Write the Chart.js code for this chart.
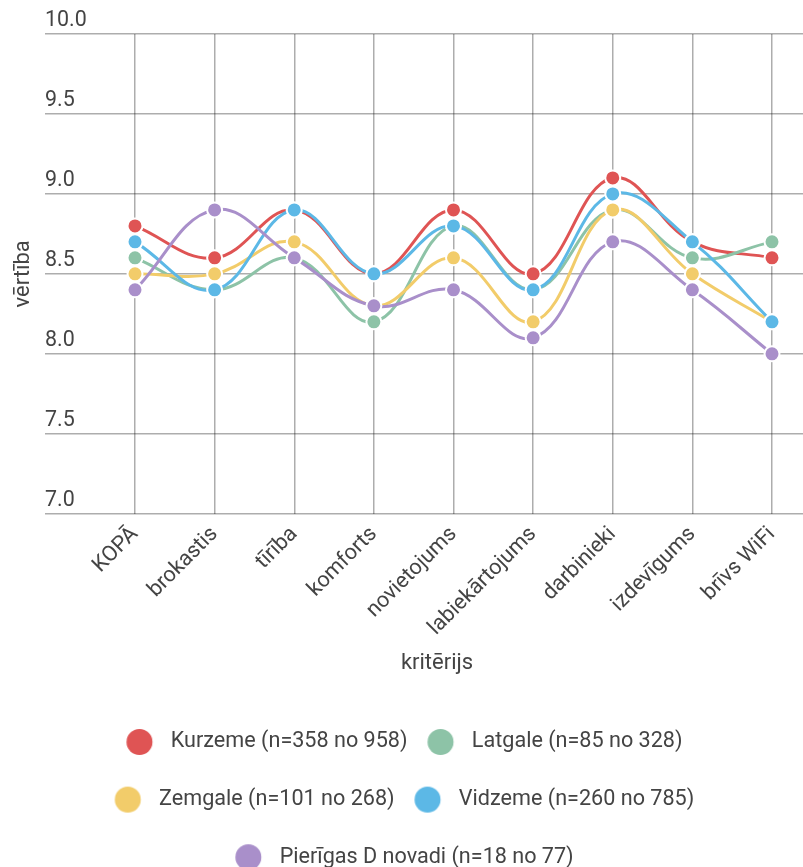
<!DOCTYPE html>
<html>
<head>
<meta charset="utf-8">
<script src="https://cdn.jsdelivr.net/npm/chart.js@4/dist/chart.umd.min.js"></script>
<style>
html,body{margin:0;padding:0;background:#fff;overflow:hidden;}
#wrap{width:803px;height:878px;}
</style>
</head>
<body>
<div id="wrap"><canvas id="c" width="803" height="878"></canvas></div>
<script>
const categories = ['KOPĀ','brokastis','tīrība','komforts','novietojums','labiekārtojums','darbinieki','izdevīgums','brīvs WiFi'];
const kurzeme  = [8.8, 8.6, 8.9, 8.5, 8.9, 8.5, 9.1, 8.7, 8.6];
const latgale  = [8.6, 8.4, 8.6, 8.2, 8.8, 8.4, 8.9, 8.6, 8.7];
const zemgale  = [8.5, 8.5, 8.7, 8.3, 8.6, 8.2, 8.9, 8.5, 8.2];
const vidzeme  = [8.7, 8.4, 8.9, 8.5, 8.8, 8.4, 9.0, 8.7, 8.2];
const pierigas = [8.4, 8.9, 8.6, 8.3, 8.4, 8.1, 8.7, 8.4, 8.0];
const seriesNames = ['Kurzeme (n=358 no 958)','Latgale (n=85 no 328)','Zemgale (n=101 no 268)','Vidzeme (n=260 no 785)','Pierīgas D novadi (n=18 no 77)'];
const seriesValues = [kurzeme, latgale, zemgale, vidzeme, pierigas];
const seriesColors = ['#df5454','#8dc3a7','#f2cc6a','#5cb8e6','#a98fca'];
const yMin = 7.0, yMax = 10.0, yStep = 0.5;
const xTitle = 'kritērijs', yTitle = 'vērtība';

const textColor = '#444444';
const gridColor = 'rgba(0,0,0,0.32)';
Chart.defaults.font.family = 'Roboto';

function legendDot(color){
  const cv = document.createElement('canvas');
  cv.width = 52; cv.height = 28;
  const g = cv.getContext('2d');
  g.fillStyle = color;
  g.beginPath(); g.arc(14.25, 14, 13, 0, Math.PI*2); g.fill();
  return cv;
}
const dots = seriesColors.map(legendDot);

const datasets = seriesNames.map((name, i) => ({
  label: name,
  data: seriesValues[i],
  borderColor: seriesColors[i],
  backgroundColor: seriesColors[i],
  pointBackgroundColor: seriesColors[i],
  pointBorderColor: '#ffffff',
  pointBorderWidth: 2,
  pointRadius: 7.5,
  pointHoverRadius: 7.5,
  borderWidth: 3,
  tension: 0.4,
  fill: false,
  clip: false,
  order: seriesNames.length - i
}));

new Chart(document.getElementById('c'), {
  type: 'line',
  data: { labels: categories, datasets },
  options: {
    responsive: false,
    devicePixelRatio: 1,
    animation: false,
    layout: { padding: { left: 6, top: 34, right: -16, bottom: 0 } },
    plugins: {
      tooltip: { enabled: false },
      legend: {
        position: 'bottom',
        labels: {
          usePointStyle: true,
          boxWidth: 17.5,
          boxHeight: 17.5,
          padding: 36,
          color: textColor,
          font: { size: 21.6 },
          sort: (a, b) => a.datasetIndex - b.datasetIndex,
          generateLabels: (chart) => {
            const items = Chart.defaults.plugins.legend.labels.generateLabels(chart);
            items.forEach(it => { it.pointStyle = dots[it.datasetIndex]; });
            return items;
          }
        }
      }
    },
    scales: {
      x: {
        offset: false,
        grid: { color: gridColor, lineWidth: 1.5, drawTicks: false },
        border: { display: false },
        ticks: { autoSkip: false, minRotation: 45, maxRotation: 45, padding: 8, color: textColor, font: { size: 21.6 } },
        title: { display: true, text: xTitle, color: textColor, font: { size: 22 }, padding: { top: 0, bottom: 19 } },
        afterFit: (s) => {
          s.height = 181.5;
          if (!s._titleShift) {
            s._titleShift = true;
            const orig = s.drawTitle;
            s.drawTitle = function () {
              const L = this.left;
              this.left = L - 33;
              orig.call(this);
              this.left = L;
            };
          }
        }
      },
      y: {
        position: 'left',
        min: yMin, max: yMax,
        grid: { color: gridColor, lineWidth: 1.5, drawTicks: true, tickLength: 90 },
        border: { display: false },
        ticks: { stepSize: yStep, mirror: true, padding: -90, labelOffset: -13, color: textColor, font: { size: 21.4 },
                 callback: (v) => Number(v).toFixed(1) },
        title: { display: true, text: yTitle, color: textColor, font: { size: 22 }, padding: { top: 4, bottom: 0 } },
        afterFit: (s) => { s.width = 129; }
      },
      y2: {
        position: 'right',
        min: yMin, max: yMax,
        grid: { color: gridColor, lineWidth: 1.5, drawOnChartArea: false, drawTicks: true, tickLength: 47 },
        border: { display: false },
        ticks: { stepSize: yStep, display: false },
        afterFit: (s) => { s.width = 47; }
      }
    }
  }
});
</script>
</body>
</html>
